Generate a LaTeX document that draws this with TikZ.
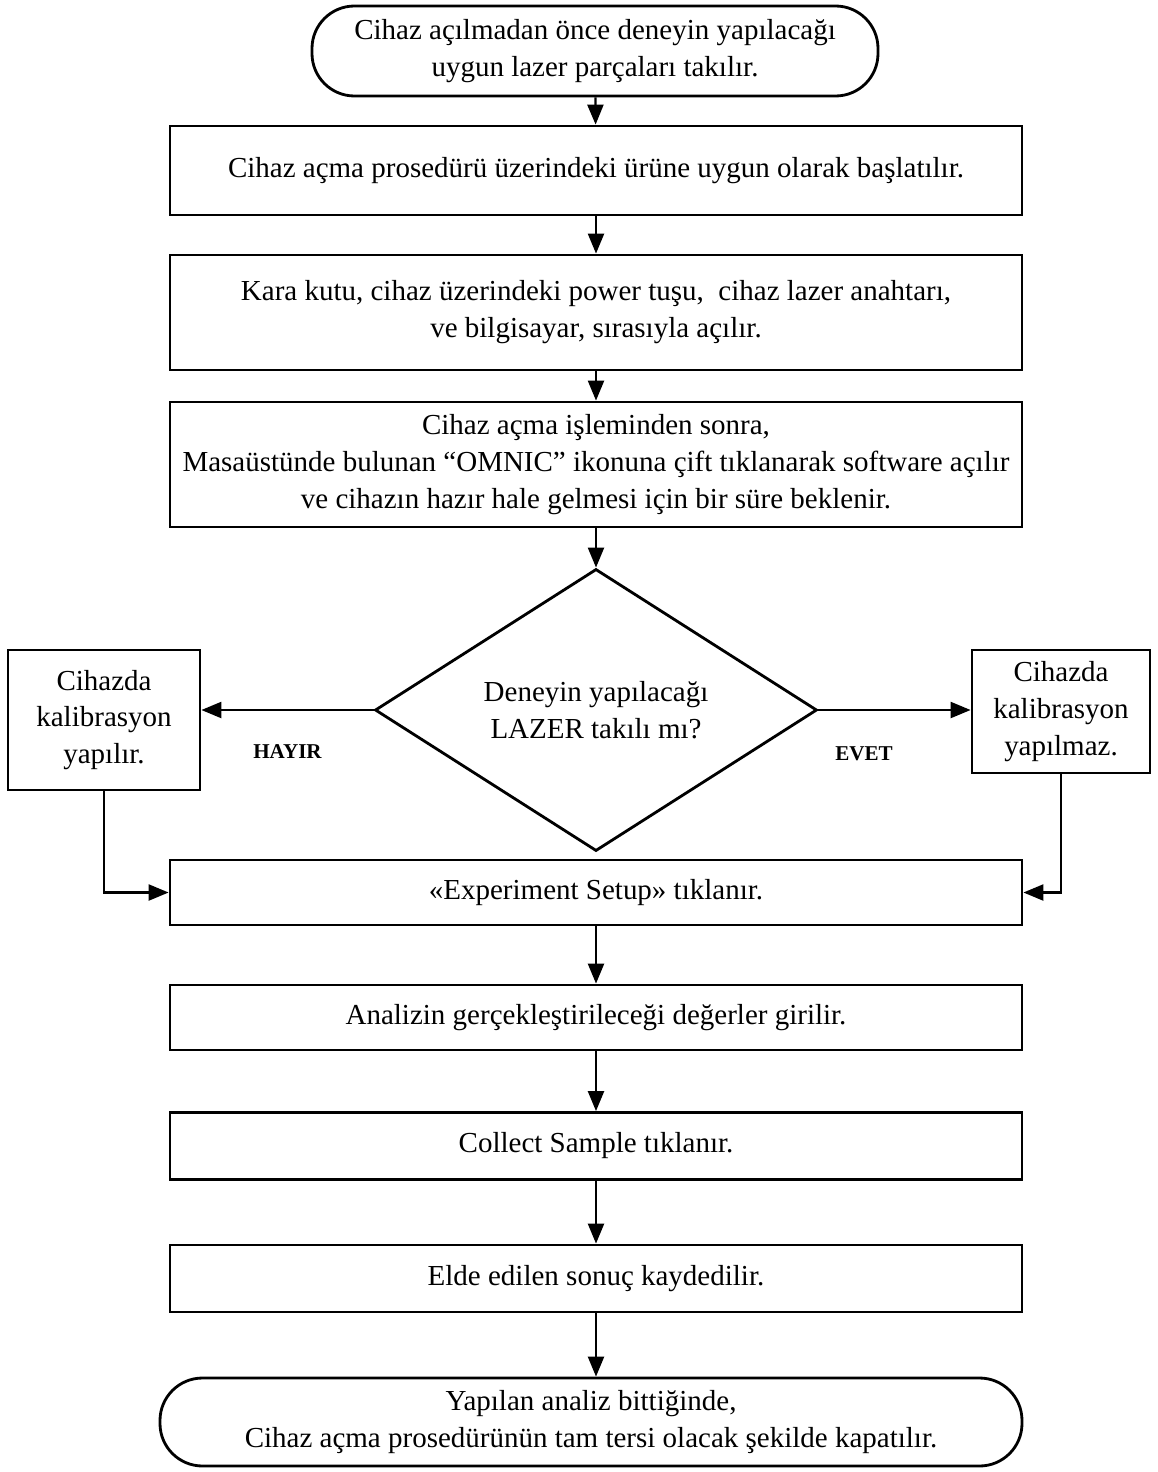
\documentclass[tikz,border=0pt]{standalone}
\usepackage{fontspec}
\setmainfont{Liberation Serif}
\usetikzlibrary{shapes.geometric,arrows.meta}

\begin{document}
\begin{tikzpicture}[
  font=\fontsize{16.5}{21}\selectfont,
  box/.style={rectangle, draw, line width=1.6pt, minimum width=17.04cm, align=center},
  term/.style={rectangle, draw, line width=1.6pt, rounded corners=0.85cm, align=center},
  side/.style={rectangle, draw, line width=1.6pt, align=center},
  arrow/.style={-{Triangle[length=0.4cm,width=0.32cm]}, line width=1.3pt},
  lbl/.style={font=\fontsize{12}{14}\selectfont\bfseries}
]
\useasboundingbox (0,0) rectangle (23.16,-29.44);

% Start
\node[term, minimum width=11.32cm, minimum height=1.8cm] (start) at (11.9,-1.02)
  {Cihaz açılmadan önce deneyin yapılacağı\\uygun lazer parçaları takılır.};

% Steps
\node[box, minimum height=1.78cm] (S1) at (11.92,-3.41)
  {Cihaz açma prosedürü üzerindeki ürüne uygun olarak başlatılır.};
\node[box, minimum height=2.3cm] (S2) at (11.92,-6.25)
  {Kara kutu, cihaz üzerindeki power tuşu,\ \ cihaz lazer anahtarı,\\ve bilgisayar, sırasıyla açılır.};
\node[box, minimum height=2.5cm] (S3) at (11.92,-9.29)
  {Cihaz açma işleminden sonra,\\Masaüstünde bulunan “OMNIC” ikonuna çift tıklanarak software açılır\\ve cihazın hazır hale gelmesi için bir süre beklenir.};

% Decision
\node[diamond, draw, line width=1.6pt, minimum width=8.84cm, minimum height=5.52cm, inner sep=0pt, align=center] (D) at (11.92,-14.2)
  {Deneyin yapılacağı\\LAZER takılı mı?};
\node[side, minimum width=3.84cm, minimum height=2.8cm] (L) at (2.08,-14.4)
  {Cihazda\\kalibrasyon\\yapılır.};
\node[side, minimum width=3.56cm, minimum height=2.46cm] (R) at (21.22,-14.23)
  {Cihazda\\kalibrasyon\\yapılmaz.};

\node[box, minimum height=1.3cm] (S4) at (11.92,-17.85) {«Experiment Setup» tıklanır.};
\node[box, minimum height=1.3cm] (S5) at (11.92,-20.35) {Analizin gerçekleştirileceği değerler girilir.};
\node[box, minimum height=1.34cm] (S6) at (11.92,-22.92) {Collect Sample tıklanır.};
\node[box, minimum height=1.34cm] (S7) at (11.92,-25.57) {Elde edilen sonuç kaydedilir.};

% End
\node[term, minimum width=17.24cm, minimum height=1.76cm] (stop) at (11.82,-28.44)
  {Yapılan analiz bittiğinde,\\Cihaz açma prosedürünün tam tersi olacak şekilde kapatılır.};

% Flow
\draw[arrow] (start) -- (S1);
\draw[arrow] (S1) -- (S2);
\draw[arrow] (S2) -- (S3);
\draw[arrow] (S3) -- (D);
\draw[arrow] (D.west) -- (D.west -| L.east) node[lbl, pos=0.5, below=0.55cm] {HAYIR};
\draw[arrow] (D.east) -- (D.east -| R.west) node[lbl, pos=0.3, below=0.6cm] {EVET};
\draw[arrow] (L.south) |- (S4.west);
\draw[arrow] (R.south) |- (S4.east);
\draw[arrow] (S4) -- (S5);
\draw[arrow] (S5) -- (S6);
\draw[arrow] (S6) -- (S7);
\draw[arrow] (S7.south) -- (S7.south |- stop.north);

\end{tikzpicture}
\end{document}
